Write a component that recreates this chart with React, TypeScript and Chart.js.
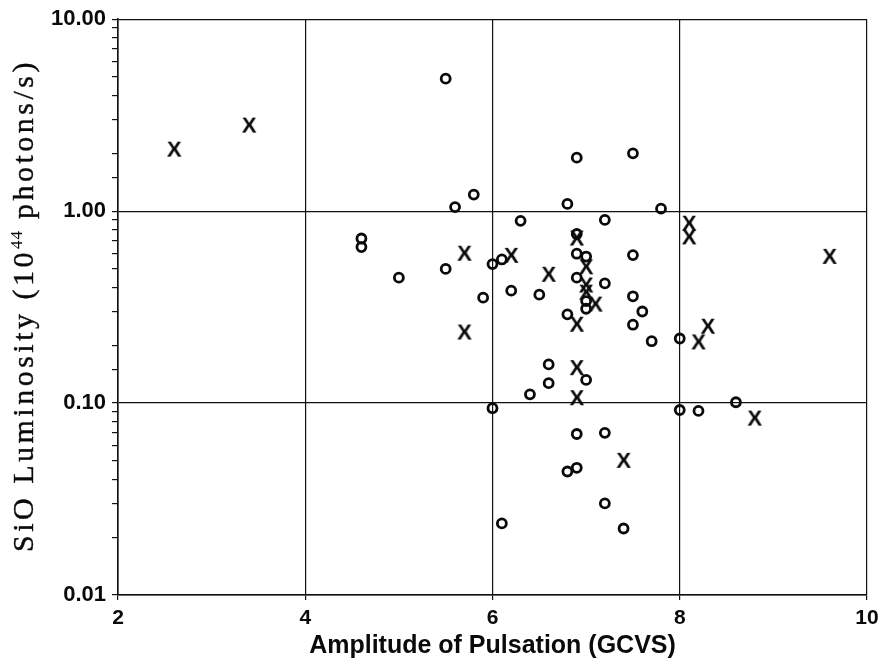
import React, { useEffect, useRef } from "react";
import { Chart, registerables } from "chart.js";

Chart.register(...registerables);

// "o" symbols
const circleX = [5.5, 4.6, 4.6, 5.0, 5.5, 5.8, 5.6, 6.3, 6.0, 6.1, 5.9, 6.2, 6.5, 6.9, 7.5, 6.8, 7.8, 7.2, 6.9, 6.9, 7.0, 6.9, 7.2, 7.0, 7.0, 6.8, 7.5, 7.5, 7.6, 7.5, 7.7, 8.0, 8.0, 8.2, 8.6, 6.6, 6.6, 7.0, 6.4, 6.0, 6.9, 7.2, 6.8, 6.9, 7.2, 6.1, 7.4];
const circleY = [4.9, 0.72, 0.65, 0.45, 0.50, 1.22, 1.05, 0.89, 0.53, 0.56, 0.354, 0.385, 0.367, 1.90, 2.0, 1.09, 1.03, 0.90, 0.76, 0.60, 0.58, 0.45, 0.42, 0.34, 0.31, 0.29, 0.59, 0.36, 0.30, 0.256, 0.21, 0.217, 0.092, 0.091, 0.101, 0.159, 0.127, 0.132, 0.111, 0.094, 0.069, 0.070, 0.044, 0.046, 0.030, 0.0236, 0.0222];

// "X" symbols
const crossX = [2.6, 3.4, 5.7, 6.2, 6.6, 5.7, 6.9, 7.0, 7.0, 7.0, 7.1, 6.9, 8.1, 8.1, 9.6, 8.2, 8.3, 8.8, 6.9, 6.9, 7.4];
const crossY = [2.09, 2.79, 0.60, 0.585, 0.466, 0.233, 0.72, 0.51, 0.41, 0.376, 0.326, 0.256, 0.86, 0.73, 0.578, 0.207, 0.25, 0.083, 0.152, 0.106, 0.050];

const xTickValues = [2, 4, 6, 8, 10];
const yDecades = [0.01, 0.1, 1, 10];

const xTitle = "Amplitude of Pulsation (GCVS)";
const yTitleA = "SiO Luminosity (10";
const yTitleSup = "44";
const yTitleB = " photons/s)";

const isDecade = (v: number) => yDecades.some((d) => Math.abs(Math.log10(v) - Math.log10(d)) < 1e-6);

function makeXMarker(): HTMLCanvasElement {
  const c = document.createElement("canvas");
  c.width = 20;
  c.height = 20;
  const g = c.getContext("2d")!;
  g.fillStyle = "#0a0a0a";
  g.font = "bold 22px 'Liberation Sans', Arial, sans-serif";
  g.textAlign = "center";
  g.textBaseline = "middle";
  g.fillText("X", 10, 11);
  return c;
}

const yTitlePlugin = {
  id: "yTitleSup",
  afterDraw(chart: any) {
    const ctx = chart.ctx as CanvasRenderingContext2D;
    ctx.save();
    ctx.translate(33, 552);
    ctx.rotate(-Math.PI / 2);
    ctx.fillStyle = "#0a0a0a";
    ctx.strokeStyle = "#0a0a0a";
    ctx.lineWidth = 0.4;
    ctx.textAlign = "left";
    ctx.textBaseline = "alphabetic";
    (ctx as any).letterSpacing = "3.5px";
    ctx.font = "30px 'Liberation Serif', 'DejaVu Serif', serif";
    ctx.fillText(yTitleA, 0, 0);
    ctx.strokeText(yTitleA, 0, 0);
    let x = ctx.measureText(yTitleA).width;
    ctx.font = "17px 'Liberation Serif', 'DejaVu Serif', serif";
    (ctx as any).letterSpacing = "1px";
    ctx.fillText(yTitleSup, x, -11);
    x += ctx.measureText(yTitleSup).width;
    ctx.font = "30px 'Liberation Serif', 'DejaVu Serif', serif";
    (ctx as any).letterSpacing = "3.5px";
    ctx.fillText(yTitleB, x, 0);
    ctx.strokeText(yTitleB, x, 0);
    ctx.restore();
  },
};

export default function App() {
  const ref = useRef<HTMLCanvasElement | null>(null);

  useEffect(() => {
    if (!ref.current) return;
    const xMarker = makeXMarker();
    const chart = new Chart(ref.current, {
      type: "scatter",
      data: {
        datasets: [
          {
            label: "o",
            data: circleX.map((x, i) => ({ x, y: circleY[i] })),
            pointStyle: "circle",
            pointRadius: 4.5,
            pointBorderWidth: 2.8,
            pointBorderColor: "#0a0a0a",
            pointBackgroundColor: "rgba(255,255,255,0)",
            showLine: false,
          },
          {
            label: "X",
            data: crossX.map((x, i) => ({ x, y: crossY[i] })),
            pointStyle: xMarker as any,
            pointRadius: 8,
            showLine: false,
          },
        ],
      },
      options: {
        animation: false,
        responsive: false,
        devicePixelRatio: 1,
        layout: { padding: { left: 0, top: 16, right: 20, bottom: 0 } },
        plugins: { legend: { display: false }, tooltip: { enabled: false }, title: { display: false } },
        scales: {
          x: {
            type: "linear",
            min: 2,
            max: 10,
            afterBuildTicks: (scale: any) => {
              scale.ticks = xTickValues.map((v) => ({ value: v }));
            },
            afterFit: (scale: any) => {
              scale.height = 69;
            },
            ticks: {
              color: "#0a0a0a",
              font: { family: "'Liberation Sans', Arial, sans-serif", weight: "bold", size: 21 },
              padding: 6,
              autoSkip: false,
              maxRotation: 0,
            },
            grid: { color: "#111", lineWidth: 1.2, tickLength: 5, tickColor: "#111", tickWidth: 1.2 },
            border: { display: true, color: "#111", width: 1.6 },
            title: {
              display: true,
              text: xTitle,
              color: "#0a0a0a",
              font: { family: "'Liberation Sans', Arial, sans-serif", weight: "bold", size: 25 },
              padding: { top: 0, bottom: 3 },
            },
          },
          y: {
            type: "logarithmic",
            min: 0.01,
            max: 10,
            afterFit: (scale: any) => {
              scale.width = 118;
            },
            ticks: {
              color: "#0a0a0a",
              font: { family: "'Liberation Sans', Arial, sans-serif", weight: "bold", size: 22 },
              padding: 6,
              autoSkip: false,
              callback: (v: any) => (isDecade(Number(v)) ? Number(v).toFixed(2) : ""),
            },
            grid: {
              color: (c: any) => (c.tick && isDecade(c.tick.value) ? "#111" : "rgba(0,0,0,0)"),
              lineWidth: 1.2,
              tickLength: 6,
              tickColor: "#111",
              tickWidth: 1.2,
            },
            border: { display: true, color: "#111", width: 1.6 },
          },
        },
      },
      plugins: [yTitlePlugin],
    });
    return () => chart.destroy();
  }, []);

  return (
    <div style={{ position: "absolute", left: 0, top: 0, width: 887, height: 664, background: "#fff" }}>
      <canvas ref={ref} width={887} height={664} style={{ display: "block" }} />
    </div>
  );
}
